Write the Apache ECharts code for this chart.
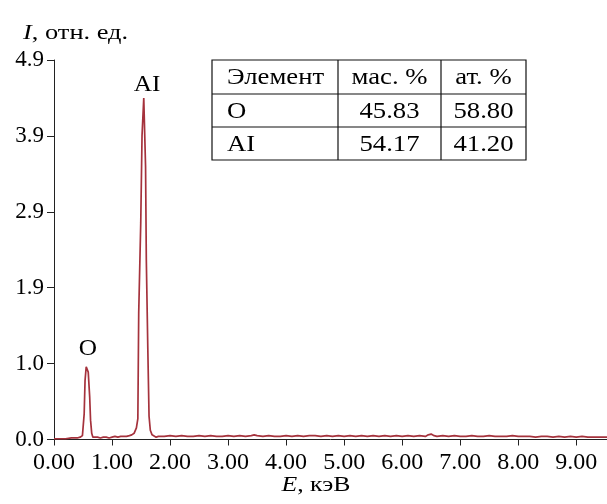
<!DOCTYPE html>
<html>
<head>
<meta charset="utf-8">
<script src="https://cdn.jsdelivr.net/npm/echarts@6/dist/echarts.min.js"></script>
<style>
html,body{margin:0;padding:0;background:#fff;}
#c{width:607px;height:504px;}
</style>
</head>
<body>
<div id="c"></div>
<script>
// ---- data ----
const energyKeV = [
 0.00,0.10,0.20,0.30,0.40,0.45,0.49,0.52,0.535,0.555,0.565,0.575,0.59,0.615,0.63,0.65,0.67,
 0.70,0.75,0.80,0.85,0.90,0.95,1.00,1.05,1.10,1.15,1.20,1.25,1.30,1.34,1.38,1.42,1.445,
 1.46,1.495,1.517,1.547,1.564,1.578,1.591,1.616,1.638,1.66,1.69,1.72,1.76,1.80,
 1.90,2.00,2.10,2.20,2.30,2.40,2.50,2.60,2.70,2.80,2.90,3.00,3.10,3.20,3.30,3.40,3.45,3.50,
 3.60,3.70,3.80,3.90,4.00,4.10,4.20,4.30,4.40,4.50,4.60,4.70,4.80,4.90,5.00,5.10,5.20,5.30,
 5.40,5.50,5.60,5.70,5.80,5.90,6.00,6.10,6.20,6.30,6.40,6.45,6.50,6.55,6.60,6.70,6.80,6.90,
 7.00,7.10,7.20,7.30,7.40,7.50,7.60,7.70,7.80,7.90,8.00,8.10,8.20,8.30,8.40,8.50,8.60,8.70,
 8.80,8.90,9.00,9.10,9.20,9.30,9.40,9.53
];
const intensity = [
 0.01,0.01,0.01,0.02,0.02,0.03,0.05,0.33,0.76,0.94,0.96,0.93,0.87,0.55,0.25,0.08,0.03,
 0.02,0.03,0.02,0.03,0.03,0.02,0.03,0.04,0.03,0.04,0.04,0.04,0.05,0.06,0.08,0.15,0.27,
 1.64,2.80,3.92,4.41,4.41,3.52,2.32,1.20,0.30,0.12,0.06,0.04,0.03,0.04,
 0.04,0.05,0.04,0.05,0.04,0.04,0.05,0.04,0.05,0.04,0.04,0.05,0.04,0.05,0.04,0.05,0.06,0.05,
 0.04,0.05,0.04,0.04,0.05,0.04,0.05,0.04,0.05,0.05,0.04,0.05,0.04,0.05,0.04,0.05,0.04,0.05,
 0.04,0.05,0.04,0.05,0.04,0.05,0.04,0.05,0.04,0.05,0.04,0.06,0.07,0.05,0.04,0.05,0.04,0.05,
 0.04,0.04,0.05,0.04,0.04,0.05,0.04,0.04,0.04,0.05,0.04,0.04,0.04,0.03,0.04,0.04,0.03,0.04,
 0.03,0.04,0.03,0.04,0.03,0.03,0.03,0.03
];
const yTickLabels = ['0.0','1.0','1.9','2.9','3.9','4.9'];
const xTickLabels = ['0.00','1.00','2.00','3.00','4.00','5.00','6.00','7.00','8.00','9.00'];
const peakLabels = ['O','AI'];
const tableHeader = ['Элемент','мас. %','ат. %'];
const tableRows = [['O','45.83','58.80'],['AI','54.17','41.20']];

// ---- chart ----
const FONT = '"Liberation Serif","Times New Roman",serif';
const INK = '#000';
const chart = echarts.init(document.getElementById('c'), null, {renderer:'canvas'});

// table graphics
const tX = [212, 338, 441, 526];
const tY = [60, 94, 127, 160];
const tableEls = [];
tableEls.push({type:'rect', shape:{x:tX[0], y:tY[0], width:tX[3]-tX[0], height:tY[3]-tY[0]},
  style:{fill:'#fff', stroke:'#111', lineWidth:1.2}});
for (let i=1;i<3;i++){
  tableEls.push({type:'line', shape:{x1:tX[0],y1:tY[i],x2:tX[3],y2:tY[i]}, style:{stroke:'#111',lineWidth:1.2}});
  tableEls.push({type:'line', shape:{x1:tX[i],y1:tY[0],x2:tX[i],y2:tY[3]}, style:{stroke:'#111',lineWidth:1.2}});
}
const allRows = [tableHeader].concat(tableRows);
allRows.forEach((row, r) => {
  row.forEach((txt, c) => {
    const cy = (tY[r]+tY[r+1])/2 + 1;
    const left = c === 0;
    tableEls.push({type:'text', x: left ? tX[0]+15 : (tX[c]+tX[c+1])/2, y: cy, scaleX:1.16,
      style:{text:txt, font:'23px '+FONT, fill:INK, textAlign: left ? 'left':'center', textVerticalAlign:'middle'}});
  });
});

chart.setOption({
  animation:false,
  backgroundColor:'#fff',
  grid:{left:54, top:60, width:553, height:379.5},
  xAxis:{
    type:'value', min:0, max:9.53, interval:1,
    axisLine:{show:true, lineStyle:{color:'#222', width:1}},
    axisTick:{show:true, length:6, lineStyle:{color:'#222'}},
    axisLabel:{margin:11, fontFamily:FONT, fontSize:24, color:INK,
      formatter:(v)=> xTickLabels[Math.round(v)] || '' , showMaxLabel:false},
    splitLine:{show:false}
  },
  yAxis:{
    type:'value', min:0, max:4.9, interval:0.98,
    axisLine:{show:true, lineStyle:{color:'#222', width:1}},
    axisTick:{show:true, length:7, lineStyle:{color:'#222'}},
    axisLabel:{margin:10, fontFamily:FONT, fontSize:23, color:INK,
      formatter:(v)=> yTickLabels[Math.round(v/0.98)]},
    splitLine:{show:false}
  },
  series:[{
    type:'line', showSymbol:false, symbol:'none',
    data: energyKeV.map((e,i)=>[e,intensity[i]]),
    lineStyle:{color:'#a5323c', width:1.7},
    z:3
  }],
  graphic:[
    {type:'text', x:23, y:33, scaleX:1.2, style:{text:'{i|I}, отн. ед.', font:'22px '+FONT, fill:INK, textVerticalAlign:'middle',
      rich:{i:{fontStyle:'italic', fontFamily:FONT, fontSize:22}}}},
    {type:'text', x:88, y:349, scaleX:1.1, style:{text:peakLabels[0], font:'23px '+FONT, fill:INK, textAlign:'center', textVerticalAlign:'middle'}},
    {type:'text', x:147, y:85, scaleX:1.1, style:{text:peakLabels[1], font:'23px '+FONT, fill:INK, textAlign:'center', textVerticalAlign:'middle'}},
    {type:'text', x:316, y:485, scaleX:1.17, style:{text:'{i|E}, кэВ', font:'22px '+FONT, fill:INK, textAlign:'center', textVerticalAlign:'middle',
      rich:{i:{fontStyle:'italic', fontFamily:FONT, fontSize:22}}}},
    {type:'group', children: tableEls}
  ]
});
</script>
</body>
</html>
